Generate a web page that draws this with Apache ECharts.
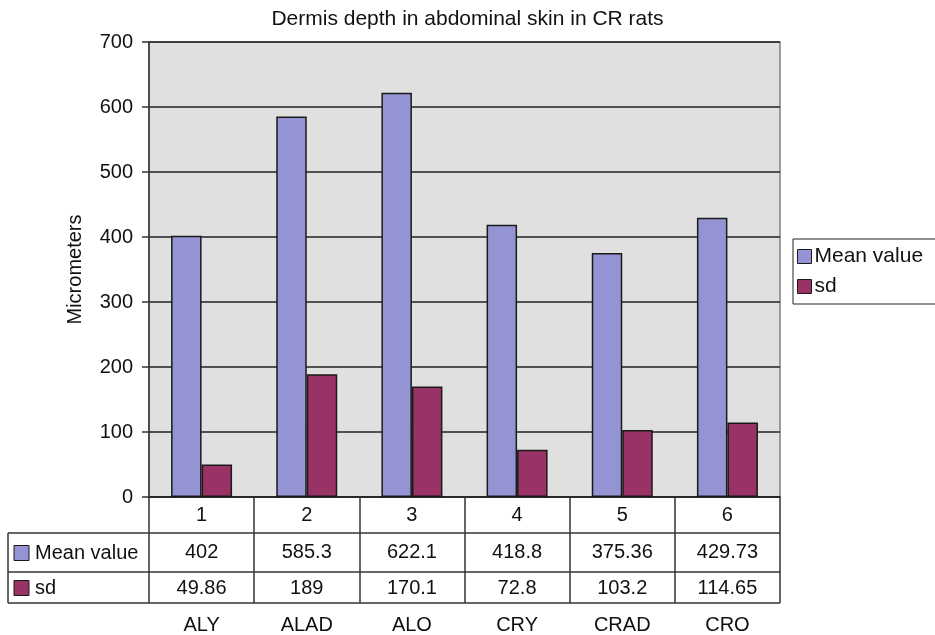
<!DOCTYPE html>
<html>
<head>
<meta charset="utf-8">
<script src="https://cdn.jsdelivr.net/npm/echarts@6/dist/echarts.min.js"></script>
<style>
  html, body { margin: 0; padding: 0; background: #fff; }
  #chart { width: 935px; height: 635px; }
</style>
</head>
<body>
<div id="chart"></div>
<script>
// Dermis depth data (micrometers) for the six groups
const groupNumbers = ['1', '2', '3', '4', '5', '6'];
const groupNames = ['ALY', 'ALAD', 'ALO', 'CRY', 'CRAD', 'CRO'];
const meanValues = [402, 585.3, 622.1, 418.8, 375.36, 429.73];
const sdValues = [49.86, 189, 170.1, 72.8, 103.2, 114.65];
const seriesNames = ['Mean value', 'sd'];
const yTicks = { min: 0, max: 700, step: 100 };

const FONT = '"Liberation Sans", Arial, Helvetica, sans-serif';
const COLORS = ['#9494d5', '#993366'];
const EDGE = '#1a1a1a';

// plot frame in pixels
const G = { left: 149, top: 42, right: 780, bottom: 497 };
const TABLE_LEFT = 8;
const ROW_LINES = [533, 572, 603];

const chart = echarts.init(document.getElementById('chart'), null, { renderer: 'canvas' });

function tableAxis(labels, offset, showTick) {
  return {
    type: 'category',
    data: labels,
    gridIndex: 0,
    position: 'bottom',
    offset: offset,
    axisLine: { show: false },
    axisTick: showTick
      ? { show: true, interval: 0, length: ROW_LINES[2] - G.bottom, lineStyle: { color: '#333', width: 1.5 } }
      : { show: false },
    axisLabel: { interval: 0, margin: 8, color: '#111', fontSize: 20, fontFamily: FONT },
    splitLine: { show: false }
  };
}

const rowHeader = [];
seriesNames.forEach(function (name, i) {
  const top = ROW_LINES[i], bottom = ROW_LINES[i + 1];
  const mid = (top + bottom) / 2;
  rowHeader.push({
    type: 'rect',
    shape: { x: 14, y: mid - 7, width: 15, height: 15 },
    style: { fill: COLORS[i], stroke: EDGE, lineWidth: 1 }
  });
  rowHeader.push({
    type: 'text',
    style: { x: 35, y: mid + 1, text: name, fill: '#111', font: '20px ' + FONT, textVerticalAlign: 'middle' }
  });
});

const tableLines = [
  // horizontal rules across the header column and the values
  ...ROW_LINES.map(function (y) {
    return { type: 'line', shape: { x1: TABLE_LEFT, y1: y, x2: G.right, y2: y }, style: { stroke: '#333', lineWidth: 1.5 } };
  }),
  { type: 'line', shape: { x1: TABLE_LEFT, y1: ROW_LINES[0], x2: TABLE_LEFT, y2: ROW_LINES[2] }, style: { stroke: '#333', lineWidth: 1.5 } }
];

chart.setOption({
  animation: false,
  backgroundColor: '#ffffff',
  title: {
    text: 'Dermis depth in abdominal skin in CR rats',
    left: 'center',
    top: 4,
    textStyle: { fontSize: 21, fontWeight: 'normal', color: '#111', fontFamily: FONT }
  },
  legend: {
    orient: 'vertical',
    left: 793,
    top: 239,
    padding: [7, 30, 7, 4],
    itemGap: 9,
    itemWidth: 14,
    itemHeight: 14,
    icon: 'rect',
    borderColor: '#222',
    borderWidth: 1,
    data: seriesNames,
    itemStyle: { borderColor: EDGE, borderWidth: 1 },
    textStyle: { fontSize: 21, color: '#111', fontFamily: FONT, padding: [0, 0, 0, -2] }
  },
  grid: {
    left: G.left,
    top: G.top,
    right: 935 - G.right,
    bottom: 635 - G.bottom,
    show: true,
    backgroundColor: '#e0e0e0',
    borderColor: '#808080',
    borderWidth: 1.5
  },
  xAxis: [
    Object.assign(tableAxis(groupNumbers, 0, true), {
      axisLine: { show: true, lineStyle: { color: '#222', width: 1.5 } }
    }),
    tableAxis(meanValues.map(String), 37, false),
    tableAxis(sdValues.map(String), 73, false),
    tableAxis(groupNames, 110, false)
  ],
  yAxis: {
    type: 'value',
    min: yTicks.min,
    max: yTicks.max,
    interval: yTicks.step,
    name: 'Micrometers',
    nameLocation: 'middle',
    nameGap: 64,
    nameRotate: 90,
    nameTextStyle: { fontSize: 20, color: '#111', fontFamily: FONT },
    axisLine: { show: true, lineStyle: { color: '#333', width: 1.5 } },
    axisTick: { show: true, length: 7, lineStyle: { color: '#333', width: 1.5 } },
    axisLabel: { margin: 16, fontSize: 20, color: '#111', fontFamily: FONT },
    splitLine: { show: true, lineStyle: { color: '#222', width: 1.5 } }
  },
  series: [
    {
      name: seriesNames[0],
      type: 'bar',
      xAxisIndex: 0,
      data: meanValues,
      barGap: '0%',
      barCategoryGap: '42%',
      itemStyle: { color: COLORS[0], borderColor: EDGE, borderWidth: 1.5 }
    },
    {
      name: seriesNames[1],
      type: 'bar',
      xAxisIndex: 0,
      data: sdValues,
      barGap: '0%',
      barCategoryGap: '42%',
      itemStyle: { color: COLORS[1], borderColor: EDGE, borderWidth: 1.5 }
    }
  ],
  graphic: tableLines.concat(rowHeader)
});
</script>
</body>
</html>
